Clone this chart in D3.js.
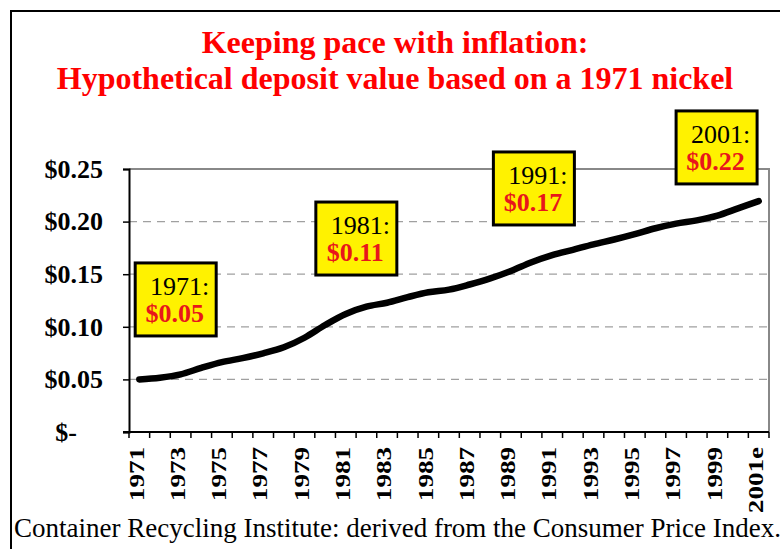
<!DOCTYPE html>
<html>
<head>
<meta charset="utf-8">
<script src="https://cdn.jsdelivr.net/npm/d3@7"></script>
<style>
  body { margin: 0; background: #fff; }
  svg { display: block; font-family: "Liberation Serif", "Times New Roman", serif; }
</style>
</head>
<body>
<svg width="780" height="549"></svg>
<script>
// values (deposit value of a 1971 nickel, by year)
const years = d3.range(1971, 2002);
const values = [0.050, 0.0516, 0.0548, 0.0609, 0.0664, 0.0702, 0.0748, 0.0805, 0.0896, 0.1017,
    0.1122, 0.1191, 0.1229, 0.1282, 0.1328, 0.1353, 0.1402, 0.1460, 0.1531, 0.1614,
    0.1681, 0.1732, 0.1784, 0.1830, 0.1881, 0.1937, 0.1981, 0.2012, 0.2057, 0.2126, 0.2195];
const yTicks = [0, 0.05, 0.10, 0.15, 0.20, 0.25];
const xLabelYears = d3.range(1971, 2002, 2);

// callout boxes: year, label, value text, and where the box sits (band index / value of top edge)
const calloutYears = ["1971:", "1981:", "1991:", "2001:"];
const calloutValues = ["$0.05", "$0.11", "$0.17", "$0.22"];
const calloutPos = [[0.3, 0.1607], [9.05, 0.2186], [17.65, 0.2662], [26.5, 0.3052]];

const svg = d3.select("svg");
const width = +svg.attr("width");
const height = +svg.attr("height");

const plot = { left: 129, right: 769, top: 169, bottom: 432 };

// outer frame
svg.append("rect")
    .attr("x", 11).attr("y", 11)
    .attr("width", 820).attr("height", 600)
    .attr("fill", "none")
    .attr("stroke", "#000")
    .attr("stroke-width", 2);

// title
const title = svg.append("text")
    .attr("text-anchor", "middle")
    .attr("fill", "#ff0000")
    .attr("font-weight", "bold")
    .attr("font-size", 32);
title.append("tspan").attr("x", 395).attr("y", 53).text("Keeping pace with inflation:");
title.append("tspan").attr("x", 395).attr("y", 89).text("Hypothetical deposit value based on a 1971 nickel");

const x = d3.scaleBand()
    .domain(years)
    .range([plot.left, plot.right]);

const y = d3.scaleLinear()
    .domain([0, 0.25])
    .range([plot.bottom, plot.top]);

// grid lines
svg.append("g")
    .selectAll("line")
    .data(yTicks.filter(d => d > 0 && d < 0.25))
    .enter()
    .append("line")
    .attr("x1", plot.left).attr("x2", plot.right)
    .attr("y1", d => y(d)).attr("y2", d => y(d))
    .attr("stroke", "#a0a0a0")
    .attr("stroke-width", 1.3)
    .attr("stroke-dasharray", "8,6");

// top and right border of the plot area
svg.append("path")
    .attr("d", `M${plot.left},${y(0.25)}H${plot.right}V${plot.bottom}`)
    .attr("fill", "none")
    .attr("stroke", "#888")
    .attr("stroke-width", 2);

// y axis
const yAxis = svg.append("g")
    .attr("transform", `translate(${plot.left},0)`)
    .call(d3.axisLeft(y)
        .tickValues(yTicks)
        .tickSize(6)
        .tickPadding(20)
        .tickFormat(d => d === 0 ? "$-" : "$" + d.toFixed(2)));
yAxis.select(".domain").attr("stroke", "#000").attr("stroke-width", 2);
yAxis.selectAll(".tick line").attr("stroke", "#000").attr("stroke-width", 1.5);
yAxis.selectAll(".tick text")
    .attr("font-family", "Liberation Serif, Times New Roman, serif")
    .attr("font-size", 26)
    .attr("font-weight", "bold")
    .attr("fill", "#000")
    .attr("dx", d => d === 0 ? -26 : 0);

// x axis: ticks between categories, labels every other year
const xAxis = svg.append("g");
xAxis.append("line")
    .attr("x1", plot.left - 6).attr("x2", plot.right)
    .attr("y1", plot.bottom).attr("y2", plot.bottom)
    .attr("stroke", "#000").attr("stroke-width", 2);
xAxis.selectAll(".xtick")
    .data(years.concat([null]))
    .enter()
    .append("line")
    .attr("class", "xtick")
    .attr("x1", d => d === null ? plot.right : x(d))
    .attr("x2", d => d === null ? plot.right : x(d))
    .attr("y1", plot.bottom)
    .attr("y2", plot.bottom + 6)
    .attr("stroke", "#000").attr("stroke-width", 1.5);
xAxis.selectAll(".xlabel")
    .data(xLabelYears)
    .enter()
    .append("text")
    .attr("class", "xlabel")
    .attr("transform", d => `translate(${x(d) + x.bandwidth() / 2},${plot.bottom + 15}) rotate(-90) scale(1.29,1)`)
    .attr("text-anchor", "end")
    .attr("dy", "0.2em")
    .attr("font-size", 21)
    .attr("font-weight", "bold")
    .text(d => d === 2001 ? "2001e" : d);

// the series
const line = d3.line()
    .x((d, i) => x(years[i]) + x.bandwidth() / 2)
    .y(d => y(d))
    .curve(d3.curveCatmullRom);

svg.append("path")
    .datum(values)
    .attr("d", line)
    .attr("fill", "none")
    .attr("stroke", "#000")
    .attr("stroke-width", 6.5)
    .attr("stroke-linecap", "round")
    .attr("stroke-linejoin", "round");

// callouts
const boxW = 81, boxH = 73;
const callout = svg.append("g")
    .selectAll("g")
    .data(calloutPos)
    .enter()
    .append("g")
    .attr("transform", d => `translate(${plot.left + d[0] * x.bandwidth()},${y(d[1])})`);

callout.append("rect")
    .attr("width", boxW).attr("height", boxH)
    .attr("fill", "#fff200")
    .attr("stroke", "#000")
    .attr("stroke-width", 3);
callout.append("text")
    .attr("x", boxW / 2 + 4).attr("y", 32)
    .attr("text-anchor", "middle")
    .attr("font-size", 26)
    .text((d, i) => calloutYears[i]);
callout.append("text")
    .attr("x", boxW / 2 - 1).attr("y", 59)
    .attr("text-anchor", "middle")
    .attr("font-size", 26)
    .attr("font-weight", "bold")
    .attr("fill", "#e8161b")
    .text((d, i) => calloutValues[i]);

// source note
svg.append("text")
    .attr("x", 14).attr("y", 537)
    .attr("font-size", 27)
    .text("Container Recycling Institute: derived from the Consumer Price Index.");
</script>
</body>
</html>
